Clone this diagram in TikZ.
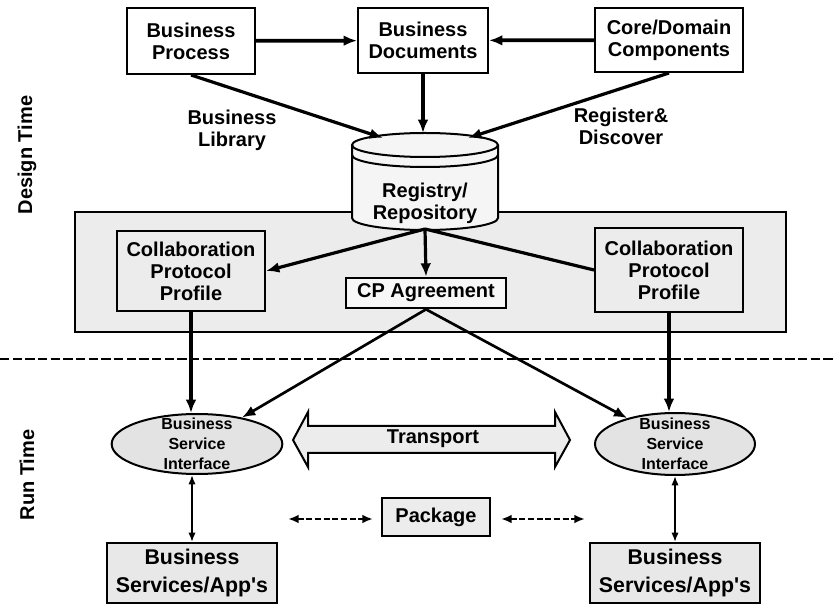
\documentclass[tikz,border=0pt]{standalone}
\usepackage{fontspec}
\setmainfont{Liberation Sans}[Ligatures=TeXOff]
\usetikzlibrary{arrows.meta,positioning,shapes.geometric}

\begin{document}
\begin{tikzpicture}[x=0.75pt,y=-0.75pt,font=\bfseries\fontsize{15}{16.5}\selectfont]
\tikzstyle{lien}=[-{Latex[length=10pt,width=8pt]},line width=2.4pt]
\tikzstyle{fin}=[{Latex[length=7pt,width=5.5pt]}-{Latex[length=7pt,width=5.5pt]},line width=1.3pt]
\tikzstyle{pointil}=[{Latex[length=8pt,width=6.5pt]}-{Latex[length=8pt,width=6.5pt]},line width=1.6pt,dash pattern=on 4.5pt off 2pt]
\tikzset{bloc/.style={draw,line width=1.5pt,fill=#1,align=center,inner sep=0pt},
bloc/.default={white},
bulle/.style={draw,ellipse,line width=1.5pt,fill=gray!22,align=center,inner xsep=0pt,inner ysep=-9pt,
  font=\bfseries\fontsize{12}{15}\selectfont}}
\useasboundingbox (0,0) rectangle (835,605);

\node[bloc] (bp) at (191,41) [minimum width=96pt,minimum height=49.5pt] {Business\\Process};
\node[bloc] (bd) at (423,40.5) [minimum width=97.5pt,minimum height=49pt] {Business\\Documents};
\node[bloc] (cdc) at (669,40) [minimum width=111pt,minimum height=48pt] {Core/Domain\\Components};
\node (lib) at (232,130) [align=center] {Business\\Library};
\node (rd) at (621,126) [align=center] {Register\&\\Discover};
\node[rotate=90] (dt) at (27,155) {Design Time};
\node[rotate=90] (rt) at (27,475) {Run Time};

\draw[line width=1.5pt,fill=gray!15] (75,212) rectangle (786,332);

\fill[gray!8] (352,145) rectangle (498,218);
\fill[gray!8] (425,218) ellipse [x radius=54.75pt,y radius=9pt];
\draw[line width=1.5pt,fill=gray!8] (425,145) ellipse [x radius=54.75pt,y radius=9pt];
\draw[line width=1.5pt] (352,145) -- (352,218) arc[start angle=180,end angle=360,x radius=54.75pt,y radius=9pt] -- (498,145);
\draw[line width=1.5pt] (352,155) arc[start angle=180,end angle=360,x radius=54.75pt,y radius=9pt];
\node (reg) at (425,203) [align=center] {Registry/\\Repository};
\coordinate (regnw) at (383,138);
\coordinate (regn) at (423,133);
\coordinate (regne) at (468,138);
\coordinate (regs) at (425,229);

\node[bloc=gray!15] (cppl) at (191,271) [minimum width=111pt,minimum height=60pt] {Collaboration\\Protocol\\Profile};
\node[bloc=gray!15] (cppr) at (669,270) [minimum width=111pt,minimum height=63pt] {Collaboration\\Protocol\\Profile};
\node[bloc=gray!6] (cpa) at (426,293) [minimum width=120pt,minimum height=23pt] {CP Agreement};

\coordinate (sepg) at (0,359);
\coordinate (sepd) at (835,359);
\draw[line width=1.8pt,dash pattern=on 7pt off 2.5pt] (sepg) -- (sepd);

\node[bulle] (bsil) at (197,444) [minimum width=128pt,minimum height=45pt] {Business\\Service\\Interface};
\node[bulle] (bsir) at (675,444) [minimum width=120pt,minimum height=46.5pt] {Business\\Service\\Interface};

\draw[line width=1.5pt,fill=gray!15] (293,440) -- (308,412) -- (308,426) -- (555,426) -- (555,412)
  -- (570,440) -- (555,467) -- (555,453) -- (308,453) -- (308,467) -- cycle;
\node (tr) at (433,439) {Transport};

\node[bloc=gray!15] (pk) at (436,517) [minimum width=81pt,minimum height=29pt] {Package};
\coordinate (pa) at (288,519);
\coordinate (pb) at (373,519);
\coordinate (pc) at (501,519);
\coordinate (pd) at (585,519);

\node[bloc=gray!18] (bsal) at (192,573) [minimum width=127.5pt,minimum height=45pt,
  font=\bfseries\fontsize{16}{21}\selectfont] {Business\\Services/App's};
\node[bloc=gray!18] (bsar) at (675,573) [minimum width=127.5pt,minimum height=45pt,
  font=\bfseries\fontsize{16}{21}\selectfont] {Business\\Services/App's};

\draw[lien,line width=2.8pt] (bp) -- (bd);
\draw[lien,line width=2.8pt] (cdc) -- (bd);
\draw[lien,line width=2.8pt] (bd.south) -- (regn);
\draw[lien] (bp.south) -- (regnw);
\draw[lien] (cdc.south) -- (regne);
\draw[lien] (regs) -- (cppl.east);
\draw[lien] (regs) -- (cpa.north);
\draw[line width=2.4pt] (regs) -- (cppr.west);
\draw[lien,line width=3.2pt] (cppl.south) -- (bsil.north -| cppl.south);
\draw[lien] (cppr.south) -- (bsir.north -| cppr.south);
\draw[lien,line width=2pt] (cpa.south) -- (bsil);
\draw[lien,line width=2pt] (cpa.south) -- (bsir);
\draw[fin] (bsil.south -| bsal.north) -- (bsal.north);
\draw[fin] (bsir.south) -- (bsar.north);
\draw[pointil] (pa) -- (pb);
\draw[pointil] (pc) -- (pd);

\end{tikzpicture}
\end{document}
